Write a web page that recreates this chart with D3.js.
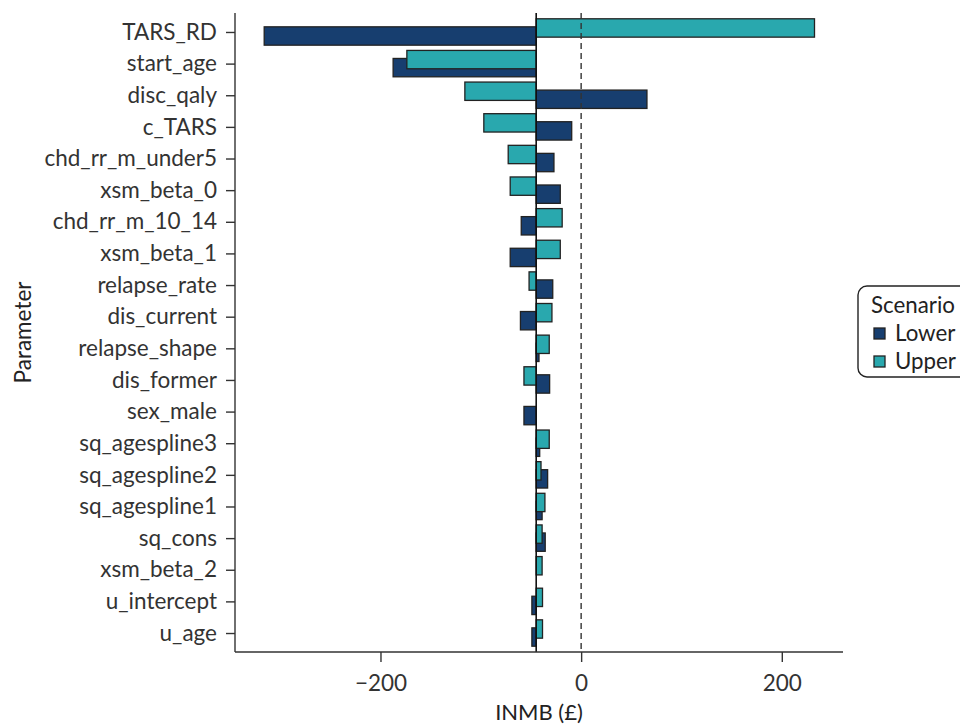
<!DOCTYPE html>
<html>
<head>
<meta charset="utf-8">
<script src="https://cdn.jsdelivr.net/npm/d3@7"></script>
<style>
  body { margin: 0; background: #fff; }
  svg { font-family: Lato, "Open Sans", sans-serif; }
</style>
</head>
<body>
<div class="tornado-chart"></div>
<script>
// parameters, top to bottom
const params = ["TARS_RD", "start_age", "disc_qaly", "c_TARS", "chd_rr_m_under5",
  "xsm_beta_0", "chd_rr_m_10_14", "xsm_beta_1", "relapse_rate", "dis_current",
  "relapse_shape", "dis_former", "sex_male", "sq_agespline3", "sq_agespline2",
  "sq_agespline1", "sq_cons", "xsm_beta_2", "u_intercept", "u_age"];

// INMB (£) at lower / upper parameter values
const lowerVals = [-315.9, -187.4, 65.6, -9.4, -27.1, -20.8, -59.7, -70.7, -28.3, -60.5,
  -42.0, -31.4, -57.0, -41.3, -33.4, -38.9, -35.8, -44.8, -49.1, -49.1];
const upperVals = [232.6, -173.7, -115.9, -97.0, -72.7, -70.7, -18.9, -20.8, -51.9, -29.1,
  -31.8, -57.0, -44.8, -31.8, -40.0, -36.1, -38.9, -38.9, -38.5, -38.5];

const baseValue = -44.8;   // base case INMB
const xTicks = [-200, 0, 200];
const scenarios = ["Lower", "Upper"];
const colors = { Lower: "#173e6f", Upper: "#29a8ae" };

const width = 960, height = 726;
const plot = { left: 235, right: 843, top: 13, bottom: 652 };

const svg = d3.select(".tornado-chart")
  .append("svg")
  .attr("width", width)
  .attr("height", height);

const xScale = d3.scaleLinear()
  .domain([-345, 261])
  .range([plot.left, plot.right]);

const yScale = d3.scalePoint()
  .domain(params)
  .range([plot.top, plot.bottom])
  .padding(0.6);

const step = yScale.step();
const barH = step * 0.58;
const shift = step * 0.127;

// rows for the bars
const rows = [];
scenarios.forEach(s => {
  params.forEach((p, i) => {
    rows.push({ param: p, scenario: s, value: s === "Lower" ? lowerVals[i] : upperVals[i] });
  });
});

const bars = svg.append("g");
bars.selectAll("rect")
  .data(rows)
  .join("rect")
  .attr("x", d => xScale(Math.min(d.value, baseValue)))
  .attr("width", d => Math.abs(xScale(d.value) - xScale(baseValue)))
  .attr("y", d => yScale(d.param) + (d.scenario === "Upper" ? -shift : shift) - barH / 2)
  .attr("height", barH)
  .attr("fill", d => colors[d.scenario])
  .attr("stroke", "#222")
  .attr("stroke-width", 1.3);

// base case line and zero line
svg.append("line")
  .attr("x1", xScale(baseValue)).attr("x2", xScale(baseValue))
  .attr("y1", plot.top).attr("y2", plot.bottom)
  .attr("stroke", "#111")
  .attr("stroke-width", 1.6);

svg.append("line")
  .attr("x1", xScale(0)).attr("x2", xScale(0))
  .attr("y1", plot.top).attr("y2", plot.bottom)
  .attr("stroke", "#333")
  .attr("stroke-width", 1.4)
  .attr("stroke-dasharray", "6,4");

// axes
const xAxis = d3.axisBottom(xScale).tickValues(xTicks).tickSize(10).tickPadding(13).tickSizeOuter(0);
const yAxis = d3.axisLeft(yScale).tickSize(9).tickPadding(9).tickSizeOuter(0);

const xAxisGroup = svg.append("g")
  .attr("transform", `translate(0,${plot.bottom})`)
  .call(xAxis);
const yAxisGroup = svg.append("g")
  .attr("transform", `translate(${plot.left},0)`)
  .call(yAxis);

[xAxisGroup, yAxisGroup].forEach(g => {
  g.select(".domain").attr("stroke", "#333").attr("stroke-width", 1.4);
  g.selectAll(".tick line").attr("stroke", "#333").attr("stroke-width", 1.4);
  g.selectAll(".tick text").attr("fill", "#333").attr("font-size", 22.5).attr("font-family", "Lato");
});
// stretch axis lines to plot edges
xAxisGroup.select(".domain").attr("d", `M${plot.left},0H${plot.right}`);
yAxisGroup.select(".domain").attr("d", `M0,${plot.top}V${plot.bottom}`);

// axis titles
svg.append("text")
  .attr("x", (plot.left + plot.right) / 2)
  .attr("y", 720)
  .attr("text-anchor", "middle")
  .attr("font-size", 22)
  .attr("fill", "#222")
  .text("INMB (£)");

svg.append("text")
  .attr("transform", `translate(31,${(plot.top + plot.bottom) / 2}) rotate(-90)`)
  .attr("text-anchor", "middle")
  .attr("font-size", 22.5)
  .attr("fill", "#222")
  .text("Parameter");

// legend
const legend = svg.append("g");
legend.append("rect")
  .attr("x", 858).attr("y", 286)
  .attr("width", 140).attr("height", 91)
  .attr("rx", 9)
  .attr("fill", "#fff")
  .attr("stroke", "#222")
  .attr("stroke-width", 1.4);

legend.append("text")
  .attr("x", 871).attr("y", 313)
  .attr("font-size", 22.3)
  .attr("fill", "#222")
  .text("Scenario");

scenarios.forEach((s, i) => {
  const y = 328 + i * 28;
  legend.append("rect")
    .attr("x", 874).attr("y", y)
    .attr("width", 11).attr("height", 11)
    .attr("fill", colors[s])
    .attr("stroke", "#222")
    .attr("stroke-width", 1.3);
  legend.append("text")
    .attr("x", 895).attr("y", y + 13)
    .attr("font-size", 22.3)
    .attr("fill", "#222")
    .text(s);
});
</script>
</body>
</html>
